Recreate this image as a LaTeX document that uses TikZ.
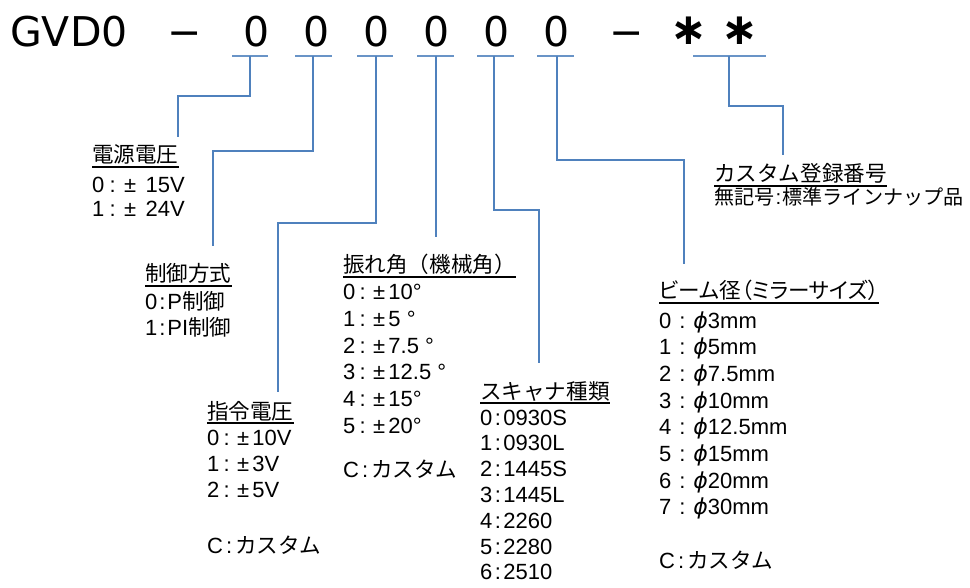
\documentclass[tikz,border=0pt]{standalone}
\usepackage{fontspec}
\setmainfont{Liberation Sans}
\newfontfamily\jp[Scale=0.98]{Noto Sans CJK JP}
\newfontfamily\jpp[Scale=0.98,RawFeature=+palt]{Noto Sans CJK JP}
\newfontfamily\dv{DejaVu Sans}
\newfontfamily\dvb{DejaVu Sans Bold}
\usetikzlibrary{calc}
\definecolor{cblue}{RGB}{79,129,189}
\newcommand\PMb{\makebox[0.85em]{±}}
\newcommand\CLn[1]{\makebox[#1]{:}}
\begin{document}
\begin{tikzpicture}[x=1pt,y=-1pt,
  conn/.style={draw=cblue, line width=1.1pt},
  seg/.style={draw=cblue!85, line width=1.2pt},
  txt/.style={inner sep=0pt, anchor=base west, font=\fontsize{22}{26}\selectfont},
  ul/.style={line width=1.5pt},
  big/.style={inner sep=0pt, anchor=base, font=\dv\fontsize{41}{45}\selectfont},
  star/.style={inner sep=0pt, anchor=base, font=\dvb\fontsize{44}{48}\selectfont},
]
\useasboundingbox[fill=white] (0,0) rectangle (970,588);

% ---- model code row
\node[big, anchor=base west] (gvd) at (10,47) {GVD0};
\node[big] (d1) at (185,47) {−};
\foreach \n/\x in {1/256.5,2/316.5,3/376.5,4/436.5,5/496.5,6/556.5}
  \node[big] (c\n) at (\x,47) {0};
\node[big] (d2) at (626.5,47) {−};
\node[star] (s1) at (688.5,45) {∗};
\node[star] (s2) at (740,45) {∗};

% ---- underline segments
\coordinate (u1) at (250,56);
\coordinate (u2) at (313,56);
\coordinate (u3) at (376,56);
\coordinate (u4) at (436,56);
\coordinate (u5) at (494,56);
\coordinate (u6) at (557,56);
\coordinate (u7) at (729,56);
\draw[seg] ([xshift=-18pt]u1) -- ([xshift=18pt]u1);
\draw[seg] ([xshift=-18pt]u2) -- ([xshift=19pt]u2);
\draw[seg] ([xshift=-19pt]u3) -- ([xshift=17pt]u3);
\draw[seg] ([xshift=-19pt]u4) -- ([xshift=18pt]u4);
\draw[seg] ([xshift=-17pt]u5) -- ([xshift=20pt]u5);
\draw[seg] ([xshift=-20pt]u6) -- ([xshift=17pt]u6);
\draw[seg] ([xshift=-36pt]u7) -- ([xshift=37pt]u7);

% ---- label blocks
% 1
\node[txt] (t1) at (92,163) {\jp 電源電圧};
\draw[ul] ([yshift=-4pt]t1.base west) -- ([yshift=-4pt]t1.base east);
\node[txt] (t1a) at (92,193) {0\CLn{0.75em}\PMb\ 15V};
\node[txt] (t1b) at (92,217) {1\CLn{0.75em}\PMb\ 24V};
% 2
\node[txt] (t2) at (145,282) {\jp 制御方式};
\draw[ul] ([yshift=-4pt]t2.base west) -- ([yshift=-4pt]t2.base east);
\node[txt] (t2a) at (145,310) {0\CLn{0.45em}P{\jp 制御}};
\node[txt] (t2b) at (145,335) {1\CLn{0.45em}PI{\jp 制御}};
% 3
\node[txt] (t3) at (207,419) {\jp 指令電圧};
\draw[ul] ([yshift=-4pt]t3.base west) -- ([yshift=-4pt]t3.base east);
\node[txt] (t3a) at (207,445) {0\CLn{0.65em}\PMb10V};
\node[txt] (t3b) at (207,471) {1\CLn{0.65em}\PMb3V};
\node[txt] (t3c) at (207,497) {2\CLn{0.65em}\PMb5V};
\node[txt] (t3d) at (207,553) {C\CLn{0.55em}{\jp カスタム}};
% 4
\node[txt] (t4) at (343,273) {\jp 振れ角（機械角）};
\draw[ul] ([yshift=-4pt]t4.base west) -- ([yshift=-4pt]t4.base east);
\foreach \i/\s in {0/{0\CLn{0.65em}\PMb10°},1/{1\CLn{0.65em}\PMb5\ °},2/{2\CLn{0.65em}\PMb7.5\ °},3/{3\CLn{0.65em}\PMb12.5\ °},4/{4\CLn{0.65em}\PMb15°},5/{5\CLn{0.65em}\PMb20°}}
  \node[txt] (t4-\i) at (343,300+26.6*\i) {\s};
\node[txt] (t4c) at (343,477) {C\CLn{0.55em}{\jp カスタム}};
% 5
\node[txt] (t5) at (480,399) {\jp スキャナ種類};
\draw[ul] ([yshift=-4pt]t5.base west) -- ([yshift=-4pt]t5.base east);
\foreach \i/\s in {0/0\CLn{0.5em}0930S,1/1\CLn{0.5em}0930L,2/2\CLn{0.5em}1445S,3/3\CLn{0.5em}1445L,4/4\CLn{0.5em}2260,5/5\CLn{0.5em}2280,6/6\CLn{0.5em}2510}
  \node[txt] (t5-\i) at (480,425+25.8*\i) {\s};
% 6
\node[txt] (t6) at (659,299) {\jpp ビーム径（ミラーサイズ）};
\draw[ul] ([yshift=-4pt]t6.base west) -- ([yshift=-4pt]t6.base east);
\foreach \i/\s in {0/3mm,1/5mm,2/7.5mm,3/10mm,4/12.5mm,5/15mm,6/20mm,7/30mm}
  \node[txt] (t6-\i) at (659,328+26.7*\i) {\i\CLn{1.0em}{\dv\itshape ϕ}\s};
\node[txt] (t6c) at (659,568) {C\CLn{0.55em}{\jp カスタム}};
% 7
\node[txt] (t7) at (714,182) {\jp カスタム登録番号};
\draw[ul] ([yshift=-4pt]t7.base west) -- ([yshift=-4pt]t7.base east);
\node[txt, font=\fontsize{20.5}{24}\selectfont] (t7a) at (714,205) {{\jp 無記号}\CLn{0.4em}{\jp 標準ラインナップ品}};

% ---- connectors
\coordinate (e1) at (178,137);
\coordinate (e2) at (213,246);
\coordinate (e3) at (278,392);
\coordinate (e4) at (436,237);
\coordinate (e5) at (539,363);
\coordinate (e6) at (684,264);
\coordinate (e7) at (783,155);
\draw[conn] (u1) -- ++(0,40) -| (e1);
\draw[conn] (u2) -- ++(0,95) -| (e2);
\draw[conn] (u3) -- ++(0,167) -| (e3);
\draw[conn] (u4) -- (e4);
\draw[conn] (u5) -- ++(0,154) -| (e5);
\draw[conn] (u6) -- ++(0,104) -| (e6);
\draw[conn] (u7) -- ++(0,50) -| (e7);
\end{tikzpicture}
\end{document}
